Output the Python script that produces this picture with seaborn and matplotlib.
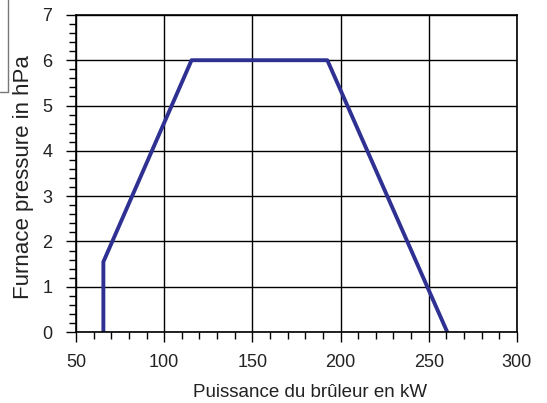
import matplotlib
matplotlib.use("Agg")
import matplotlib.pyplot as plt
import seaborn as sns
import pandas as pd
from matplotlib.lines import Line2D
from matplotlib.ticker import MultipleLocator

# Courbe de fonctionnement du brûleur
puissance_kw = [65.5, 65.5, 115.5, 192.5, 260.5]
pression_hpa = [0.0, 1.55, 6.0, 6.0, 0.0]

x_ticks = [50, 100, 150, 200, 250, 300]
y_ticks = [0, 1, 2, 3, 4, 5, 6, 7]

df = pd.DataFrame({"puissance": puissance_kw, "pression": pression_hpa})

sns.set_style("white")
plt.rcParams["font.family"] = ["Liberation Sans", "DejaVu Sans"]

fig = plt.figure(figsize=(5.47, 4.03), dpi=100)
ax = fig.add_axes([0.139, 0.176, 0.806, 0.787])

sns.lineplot(data=df, x="puissance", y="pression", sort=False, estimator=None,
             color="#2e3192", linewidth=2.8, ax=ax)

ax.set_xlim(50, 300)
ax.set_ylim(0, 7)
ax.set_xticks(x_ticks)
ax.set_yticks(y_ticks)
ax.xaxis.set_minor_locator(MultipleLocator(10))
ax.yaxis.set_minor_locator(MultipleLocator(0.2))
ax.grid(True, which="major", color="black", linewidth=1.0)
ax.set_axisbelow(True)

for s in ax.spines.values():
    s.set_color("black")
    s.set_linewidth(1.2)

ax.tick_params(axis="both", which="major", direction="out", length=7, width=1.0,
               labelsize=13, colors="black", labelcolor="#222222", bottom=True, left=True)
ax.tick_params(axis="both", which="minor", direction="out", length=5, width=1.0,
               colors="black", bottom=True, left=True)
ax.tick_params(axis="x", which="major", pad=9)
ax.tick_params(axis="y", which="major", pad=10)

ax.set_xlabel("Puissance du brûleur en kW", fontsize=13.5, color="#222222")
ax.set_ylabel("Furnace pressure in hPa", fontsize=16, color="#222222")
ax.xaxis.set_label_coords(0.53, -0.205)
ax.xaxis.label.set_verticalalignment("baseline")
ax.yaxis.set_label_coords(-0.12, 0.489)
ax.yaxis.label.set_verticalalignment("center")

# cadre partiel en haut à gauche
fig.add_artist(Line2D([8 / 547, 8 / 547], [1.0, 1 - 92 / 403], color="#777777", linewidth=1.0))
fig.add_artist(Line2D([0, 8 / 547], [1 - 92 / 403, 1 - 92 / 403], color="#777777", linewidth=1.0))

fig.savefig("out.png", dpi=100)
